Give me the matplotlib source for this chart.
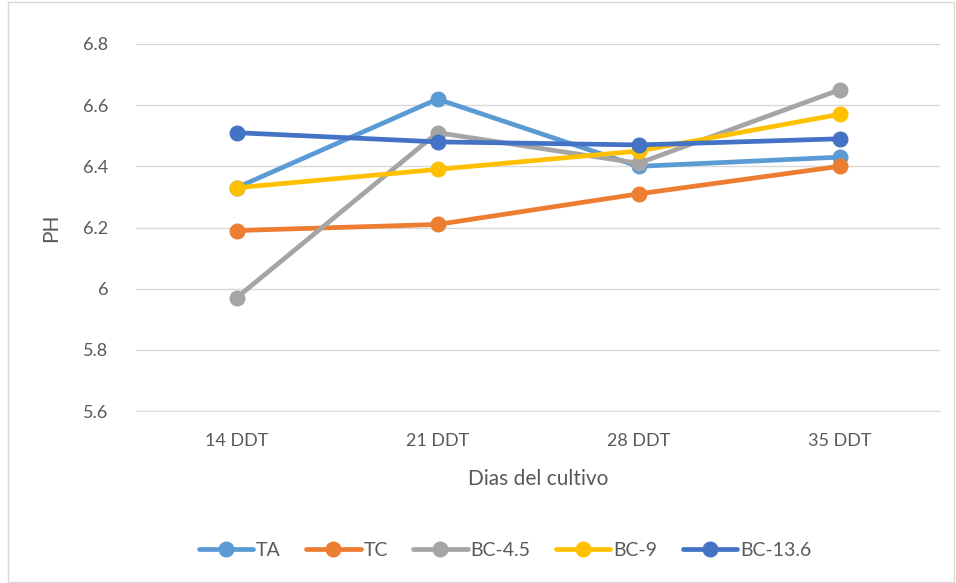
import matplotlib.pyplot as plt
from matplotlib.patches import Rectangle

plt.rcParams['font.family'] = ['Lato', 'DejaVu Sans']

categories = ['14 DDT', '21 DDT', '28 DDT', '35 DDT']
series_names = ['TA', 'TC', 'BC-4.5', 'BC-9', 'BC-13.6']
ta = [6.33, 6.62, 6.40, 6.43]
tc = [6.19, 6.21, 6.31, 6.40]
bc45 = [5.97, 6.51, 6.41, 6.65]
bc9 = [6.33, 6.39, 6.45, 6.57]
bc136 = [6.51, 6.48, 6.47, 6.49]
colors = ['#5B9BD5', '#ED7D31', '#A5A5A5', '#FFC000', '#4472C4']
y_ticks = [5.6, 5.8, 6.0, 6.2, 6.4, 6.6, 6.8]
y_labels = ['5.6', '5.8', '6', '6.2', '6.4', '6.6', '6.8']

fig = plt.figure(figsize=(9.56, 5.83), dpi=100)
ax = fig.add_axes([136 / 956, 1 - 411 / 583, (940 - 136) / 956, (411 - 44) / 583])

x = range(len(categories))
for name, vals, c in zip(series_names, [ta, tc, bc45, bc9, bc136], colors):
    ax.plot(x, vals, color=c, lw=3.4, marker='o', ms=10.5, label=name,
            solid_capstyle='round')

ax.set_xlim(-0.5, len(categories) - 0.5)
ax.set_ylim(5.6, 6.8)
ax.set_yticks(y_ticks)
ax.set_yticklabels(y_labels)
ax.set_xticks(list(x))
ax.set_xticklabels(categories)
ax.grid(axis='y', color='#D9D9D9', lw=1)
ax.set_axisbelow(True)
for s in ['top', 'right', 'left']:
    ax.spines[s].set_visible(False)
ax.spines['bottom'].set_color('#D9D9D9')
ax.tick_params(axis='both', length=0, labelsize=13, colors='#595959')
ax.tick_params(axis='x', pad=16)
ax.tick_params(axis='y', pad=20)
ax.set_ylabel('PH', fontsize=15, color='#595959', labelpad=16)
ax.set_xlabel('Dias del cultivo', fontsize=15, color='#595959', labelpad=14)

ax.legend(loc='center', bbox_to_anchor=(505 / 956, 1 - 550 / 583),
          bbox_transform=fig.transFigure, ncol=5, frameon=False,
          fontsize=14, labelcolor='#595959', handlelength=2.8,
          columnspacing=1.3, handletextpad=0.15)

fig.patches.append(Rectangle((8 / 956, 0.002), 946 / 956, 0.995,
                             transform=fig.transFigure, fill=False,
                             edgecolor='#D9D9D9', lw=1))

fig.savefig('out.png', dpi=100)
